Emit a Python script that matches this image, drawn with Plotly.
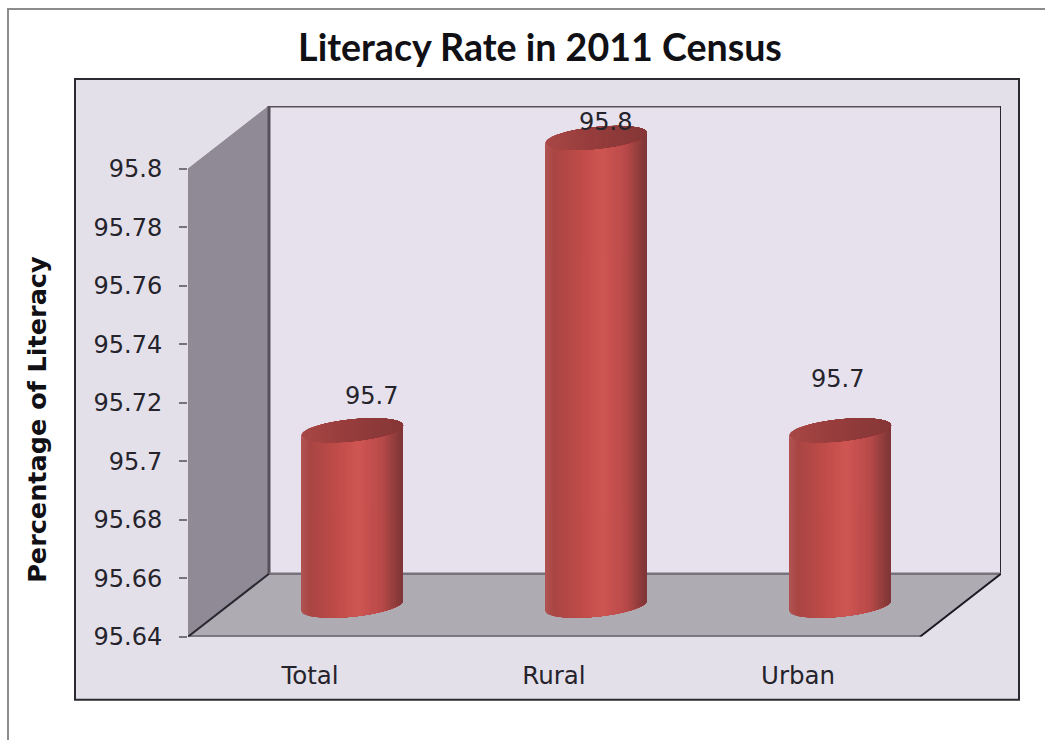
"""Literacy rate chart drawn as a pseudo 3D cylinder column chart."""

import numpy as np
import plotly.graph_objects as go

categories = ['Total', 'Rural', 'Urban']
values = [95.7, 95.8, 95.7]
value_labels = ['95.7', '95.8', '95.7']
y_ticks = [95.64, 95.66, 95.68, 95.7, 95.72, 95.74, 95.76, 95.78, 95.8]
y_tick_labels = ['95.64', '95.66', '95.68', '95.7', '95.72', '95.74', '95.76', '95.78', '95.8']

# Figure runs a little past the window bottom, the page crops it at 740
W, H = 1045, 760
# Rendered pictures came out about 2% short vertically, so paper fractions allow for it
Y_FIT = 0.982

# Front plane of the chart box in pixels, everything else follows from the axes
LEFT, FRONT_W, DEPTH_X = 188, 732, 81
BOTTOM, FRONT_H, DEPTH_Y = 637, 468, 63
Y_MIN, Y_MAX = 95.64, 95.8

per_px_x = 3 / FRONT_W
per_px_y = (Y_MAX - Y_MIN) / FRONT_H
dx = DEPTH_X * per_px_x
dy = DEPTH_Y * per_px_y
x0, x1 = -0.5, 2.5

# Cylinder geometry
half_w = 51 * per_px_x
cap_h = 11 * per_px_y
tilt = 5 * per_px_y
shift_x = 42 * per_px_x
shift_y = 31 * per_px_y

# Shading across the cylinder, left to right
body_stops = [(0, '#b05250'), (0.08, '#a94543'), (0.35, '#c04c49'), (0.55, '#cf5552'),
              (0.78, '#b84a49'), (0.93, '#8a3a3a'), (1, '#7c3436')]
cap_stops = [(0, '#a84745'), (0.4, '#983d3d'), (1, '#853636')]


def rgb(h):
    return [int(h[i:i + 2], 16) for i in (1, 3, 5)]


def shade(stops, t):
    ts = [s[0] for s in stops]
    cols = np.array([rgb(s[1]) for s in stops])
    return 'rgb({:.0f},{:.0f},{:.0f})'.format(*[np.interp(t, ts, cols[:, k]) for k in range(3)])


def py(px):
    return 1 - px / (H * Y_FIT)


def add_poly(fig, xs, ys, color, width=1):
    fig.add_trace(go.Scatter(x=xs, y=ys, mode='lines', fill='toself', fillcolor=color,
                             line=dict(color=color, width=width), hoverinfo='skip',
                             showlegend=False, cliponaxis=False))


def add_edge(fig, xs, ys, color, width):
    fig.add_trace(go.Scatter(x=xs, y=ys, mode='lines', line=dict(color=color, width=width),
                             hoverinfo='skip', showlegend=False, cliponaxis=False))


def add_cylinder(fig, center, base, top, strips=40):
    # Strips are painted left to right, each runs to the right edge so no seams show
    edges = np.linspace(-1, 1, strips + 1)[:-1]
    for a in edges:
        u = np.linspace(a, 1, 60)
        arc = cap_h * np.sqrt(np.clip(1 - u ** 2, 0, 1))
        xs = center + half_w * u
        lower = tilt * u - arc
        add_poly(fig, list(xs) + list(xs[::-1]),
                 list(top + lower) + list((base + lower)[::-1]),
                 shade(body_stops, (a + 1) / 2), width=0)
    for a in edges:
        u = np.linspace(a, 1, 60)
        arc = cap_h * np.sqrt(np.clip(1 - u ** 2, 0, 1))
        xs = center + half_w * u
        add_poly(fig, list(xs) + list(xs[::-1]),
                 list(top + tilt * u - arc) + list((top + tilt * u + arc)[::-1]),
                 shade(cap_stops, (a + 1) / 2), width=0)


fig = go.Figure()

# Left wall, back wall and floor
add_poly(fig, [x0, x0 + dx, x0 + dx, x0], [Y_MIN, Y_MIN + dy, Y_MAX + dy, Y_MAX], '#8f8a96')
add_poly(fig, [x0 + dx, x1 + dx, x1 + dx, x0 + dx], [Y_MIN + dy, Y_MIN + dy, Y_MAX + dy, Y_MAX + dy], '#e6e1ec')
add_poly(fig, [x0, x1, x1 + dx, x0 + dx], [Y_MIN, Y_MIN, Y_MIN + dy, Y_MIN + dy], '#aeabb3')

add_edge(fig, [x0 + dx, x0 + dx, x1 + dx], [Y_MIN + dy, Y_MAX + dy, Y_MAX + dy], '#55505c', 3)
add_edge(fig, [x1 + dx, x1 + dx], [Y_MAX + dy, Y_MIN + dy], '#2a2830', 2)
add_edge(fig, [x0 + dx, x1 + dx], [Y_MIN + dy, Y_MIN + dy], '#77737c', 2.5)
add_edge(fig, [x0, x1], [Y_MIN, Y_MIN], '#6a6670', 3)
add_edge(fig, [x0, x0 + dx], [Y_MIN, Y_MIN + dy], '#2a2830', 2)
add_edge(fig, [x1, x1 + dx], [Y_MIN, Y_MIN + dy], '#1c1a20', 2)

for i, v in enumerate(values):
    add_cylinder(fig, i + shift_x, Y_MIN + shift_y, v + shift_y)

# Data labels sit at their own offsets from the top of each cylinder
label_shift = [(19, 34), (9, 16), (-3, 51)]
for i, (v, txt) in enumerate(zip(values, value_labels)):
    fig.add_annotation(x=i + shift_x, y=v + shift_y, text=txt, showarrow=False,
                       xshift=label_shift[i][0], yshift=label_shift[i][1],
                       font=dict(family='DejaVu Sans', size=24, color='#25232b'))

fig.add_annotation(text='Percentage of Literacy', xref='paper', yref='paper',
                   x=37 / W, y=py(420), xanchor='center', yanchor='middle',
                   textangle=-90, showarrow=False,
                   font=dict(family='DejaVu Sans', size=25.5, color='#101015', weight='bold'))

fig.update_layout(
    width=W,
    height=H,
    margin=dict(l=0, r=0, t=0, b=0),
    paper_bgcolor='white',
    plot_bgcolor='rgba(0,0,0,0)',
    showlegend=False,
    title=dict(
        text='<b>Literacy Rate in 2011 Census</b>',
        x=540 / W,
        y=py(47),
        xanchor='center',
        yanchor='middle',
        font=dict(family='Lato', size=37.6, color='#101015')
    ),
    xaxis=dict(
        domain=[LEFT / W, (LEFT + FRONT_W + DEPTH_X) / W],
        range=[x0, x1 + dx],
        tickvals=[0, 1, 2],
        ticktext=categories,
        showgrid=False,
        zeroline=False,
        showline=False,
        ticks='',
        ticklabelstandoff=22,
        tickfont=dict(family='DejaVu Sans', size=24.5, color='#25232b')
    ),
    yaxis=dict(
        domain=[py(BOTTOM), py(BOTTOM - FRONT_H - DEPTH_Y)],
        range=[Y_MIN, Y_MAX + dy],
        tickvals=y_ticks,
        ticktext=y_tick_labels,
        showgrid=False,
        zeroline=False,
        showline=False,
        ticks='outside',
        ticklen=8,
        tickwidth=1.5,
        tickcolor='#77737c',
        ticklabelstandoff=12,
        tickfont=dict(family='DejaVu Sans', size=24, color='#25232b')
    ),
    shapes=[
        # Outer chart frame, open on the right and at the bottom
        dict(type='path', xref='paper', yref='paper', layer='below',
             path=f'M {8 / W} 0 L {8 / W} {py(9)} L 1 {py(9)}',
             line=dict(color='#8c8c8c', width=2)),
        # Plot area
        dict(type='rect', xref='paper', yref='paper', layer='below',
             x0=75 / W, x1=1019 / W, y0=py(700), y1=py(79),
             fillcolor='#e4e0ea', line=dict(color='#2a2a30', width=2)),
    ],
)

fig.write_html('out.html', config={'displayModeBar': False, 'responsive': False},
               post_script="document.body.style.margin='0';"
                           "document.documentElement.style.overflow='hidden';")
